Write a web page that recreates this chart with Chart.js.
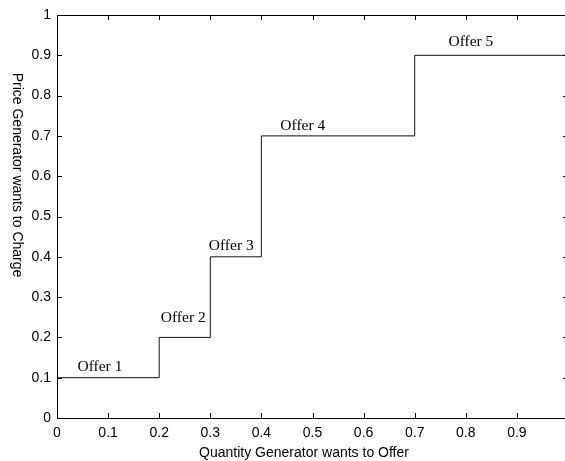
<!DOCTYPE html>
<html>
<head>
<meta charset="utf-8">
<script src="https://cdn.jsdelivr.net/npm/chart.js@4"></script>
<style>
    html, body { margin: 0; padding: 0; background: #fff; overflow: hidden; }
    #wrap { width: 600px; height: 461px; }
</style>
</head>
<body>
<div id="wrap"><canvas id="stepChart" width="600" height="461"></canvas></div>
<script>
// step edges (quantity) and the price of each step
const quantities = [0, 0.2, 0.3, 0.4, 0.7, 1.0];
const prices = [0.1, 0.2, 0.4, 0.7, 0.9, 0.9];

// text labels placed in data coordinates (x centre, y baseline)
const offerNames = ["Offer 1", "Offer 2", "Offer 3", "Offer 4", "Offer 5"];
const offerLabelX = [0.084, 0.247, 0.341, 0.481, 0.810];
const offerLabelY = [0.117, 0.237, 0.416, 0.714, 0.923];

const xTitle = "Quantity Generator wants to Offer";
const yTitle = "Price Generator wants to Charge";

const tickFont = { family: "Liberation Sans, Arial, sans-serif", size: 14 };

function fmt(v) {
    return String(Math.round(v * 10) / 10);
}

// box, inward ticks, labels and axis titles (matlab look)
const matlabAxes = {
    id: "matlabAxes",
    afterDatasetsDraw(chart) {
        const ctx = chart.ctx;
        const a = chart.chartArea;
        const xs = chart.scales.x;
        const ys = chart.scales.y;
        ctx.save();
        ctx.strokeStyle = "#000";
        ctx.lineWidth = 1;
        ctx.strokeRect(a.left + 0.5, a.top + 0.5, a.right - a.left, a.bottom - a.top);

        ctx.beginPath();
        for (let v = 0; v <= 1.0001; v += 0.1) {
            let px = Math.round(xs.getPixelForValue(v)) + 0.5;
            ctx.moveTo(px, a.bottom);
            ctx.lineTo(px, a.bottom - 5);
            ctx.moveTo(px, a.top);
            ctx.lineTo(px, a.top + 5);
            let py = Math.round(ys.getPixelForValue(v)) + 0.5;
            ctx.moveTo(a.left, py);
            ctx.lineTo(a.left + 5, py);
            ctx.moveTo(a.right, py);
            ctx.lineTo(a.right - 5, py);
        }
        ctx.stroke();

        // offer labels
        ctx.fillStyle = "#000";
        ctx.font = "15.5px 'Liberation Serif', 'Times New Roman', serif";
        ctx.textAlign = "center";
        ctx.textBaseline = "alphabetic";
        offerNames.forEach((name, i) => {
            ctx.fillText(name, xs.getPixelForValue(offerLabelX[i]), ys.getPixelForValue(offerLabelY[i]));
        });

        // axis titles
        ctx.font = "14px 'Liberation Sans', Arial, sans-serif";
        ctx.fillText(xTitle, a.left + 247, 457);
        ctx.translate(13, 175);
        ctx.rotate(Math.PI / 2);
        ctx.fillText(yTitle, 0, 0);
        ctx.restore();
    }
};

const ctx = document.getElementById("stepChart").getContext("2d");

new Chart(ctx, {
    type: "line",
    data: {
        datasets: [{
            data: quantities.map((q, i) => ({ x: q, y: prices[i] })),
            stepped: "before",
            borderColor: "#111",
            borderWidth: 1,
            pointRadius: 0,
            fill: false
        }]
    },
    options: {
        responsive: false,
        animation: false,
        devicePixelRatio: 1,
        layout: { padding: { left: 0, top: 15, right: 32, bottom: 0 } },
        plugins: {
            legend: { display: false },
            tooltip: { enabled: false }
        },
        scales: {
            x: {
                type: "linear",
                min: 0,
                max: 1,
                grid: { display: false, drawTicks: false },
                border: { display: false },
                ticks: {
                    stepSize: 0.1,
                    padding: 7,
                    color: "#000",
                    font: tickFont,
                    maxRotation: 0,
                    callback: v => (v >= 1 ? "" : fmt(v))
                },
                afterFit: s => { s.height = 43; }
            },
            y: {
                type: "linear",
                min: 0,
                max: 1,
                grid: { display: false, drawTicks: false },
                border: { display: false },
                ticks: {
                    stepSize: 0.1,
                    padding: 6,
                    color: "#000",
                    font: tickFont,
                    callback: v => fmt(v)
                },
                afterFit: s => { s.width = 57; }
            }
        }
    },
    plugins: [matlabAxes]
});
</script>
</body>
</html>
